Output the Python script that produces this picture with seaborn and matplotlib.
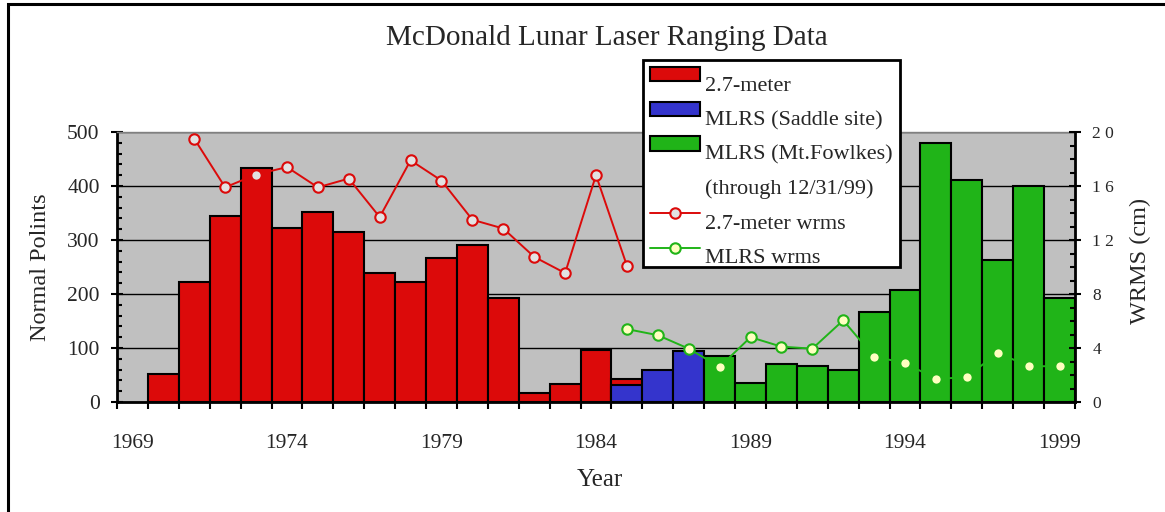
import matplotlib
matplotlib.use("Agg")
import matplotlib.pyplot as plt
import matplotlib.transforms as mtransforms
from matplotlib.patches import Patch, Rectangle
from matplotlib.lines import Line2D
from matplotlib.ticker import MultipleLocator, FixedLocator, NullFormatter
import numpy as np
import pandas as pd
import seaborn as sns

# ---------------- data ----------------
title = "McDonald Lunar Laser Ranging Data"

red_years = [1970, 1971, 1972, 1973, 1974, 1975, 1976, 1977, 1978, 1979,
             1980, 1981, 1982, 1983, 1984, 1985]
red_points = [52, 222, 345, 434, 322, 352, 315, 238, 222, 267,
              290, 192, 17, 33, 97, 43]

blue_years = [1985, 1986, 1987]
blue_points = [32, 59, 95]

green_years = [1988, 1989, 1990, 1991, 1992, 1993, 1994, 1995, 1996, 1997,
               1998, 1999]
green_points = [85, 36, 70, 66, 59, 167, 207, 479, 411, 263, 400, 192]

red_wrms_years = [1971, 1972, 1973, 1974, 1975, 1976, 1977, 1978, 1979,
                  1980, 1981, 1982, 1983, 1984, 1985]
red_wrms = [19.5, 15.9, 16.85, 17.4, 15.9, 16.55, 13.7, 17.9, 16.4,
            13.5, 12.85, 10.75, 9.55, 16.8, 10.1]

green_wrms_years = [1985, 1986, 1987, 1988, 1989, 1990, 1991, 1992, 1993,
                    1994, 1995, 1996, 1997, 1998, 1999]
green_wrms = [5.4, 4.95, 3.95, 2.6, 4.8, 4.1, 3.95, 6.05, 3.35,
              2.9, 1.7, 1.85, 3.65, 2.65, 2.65]

year_tick_labels = ["1969", "1974", "1979", "1984", "1989", "1994", "1999"]
left_ticks = [0, 100, 200, 300, 400, 500]
right_ticks = [0, 4, 8, 12, 16, 20]
right_tick_labels = ["0", "4", "8", "1 2", "1 6", "2 0"]

legend_labels = ["2.7-meter", "MLRS (Saddle site)", "MLRS (Mt.Fowlkes)",
                 "(through 12/31/99)", "2.7-meter wrms", "MLRS wrms"]

# ---------------- style ----------------
RED = "#DC0A0A"
BLUE = "#3434CC"
GREEN = "#20B418"
GRAY = "#C0C0C0"

sns.set_style("ticks")
plt.rcParams["font.family"] = ["Liberation Serif", "DejaVu Serif"]

fig = plt.figure(figsize=(11.65, 5.12), dpi=100)
ax = fig.add_axes([117 / 1165, 1 - 402 / 512, 958 / 1165, 270 / 512])
ax.set_facecolor(GRAY)
ax.set_axisbelow(True)

bar_kw = dict(native_scale=True, width=1.0, saturation=1, errorbar=None,
              edgecolor="black", linewidth=1.5, ax=ax)
sns.barplot(x=red_years, y=red_points, color=RED, **bar_kw)
sns.barplot(x=blue_years, y=blue_points, color=BLUE, **bar_kw)
sns.barplot(x=green_years, y=green_points, color=GREEN, **bar_kw)

ax.set_xlim(1968.5, 1999.5)
ax.set_ylim(0, 500)

# x ticks: boundaries (major), labels (minor, zero length)
bounds = [y + 0.5 for y in range(1968, 2000)]
ax.xaxis.set_major_locator(FixedLocator(bounds))
ax.xaxis.set_major_formatter(NullFormatter())
ax.set_xticks([int(s) for s in year_tick_labels], labels=year_tick_labels, minor=True)
ax.tick_params(axis="x", which="major", direction="out", length=5, width=1.5,
               color="black")
ax.tick_params(axis="x", which="minor", length=0, pad=23, labelsize=15.5)

ax.set_yticks(left_ticks)
ax.yaxis.set_minor_locator(MultipleLocator(20))
ax.tick_params(axis="y", which="major", direction="inout", length=9, width=1.5,
               pad=8, labelsize=15.5, color="black")
ax.tick_params(axis="y", which="minor", direction="in", length=3.6, width=1.5,
               color="black")
ax.yaxis.grid(True, which="major", color="black", linewidth=1)
ax.xaxis.grid(False)

for s in ["left", "bottom"]:
    ax.spines[s].set_color("black")
    ax.spines[s].set_linewidth(2)
ax.spines["top"].set_visible(True)
ax.spines["top"].set_color("#808080")
ax.spines["top"].set_linewidth(1)
ax.spines["right"].set_visible(False)

ax.set_ylabel("Normal Polints", fontsize=17.5)
ax.yaxis.set_label_coords(-0.069, 0.5)
ax.set_xlabel("Year", fontsize=18)
ax.xaxis.set_label_coords(0.504, -0.25)

# ---------------- wrms lines ----------------
ax2 = ax.twinx()
ax2.set_ylim(0, 20)
sns.lineplot(x=red_wrms_years, y=red_wrms, ax=ax2, color=RED, linewidth=1.4,
             marker="o", markersize=7.5, markerfacecolor="#E2E2E2",
             markeredgecolor=RED, markeredgewidth=1.5)
sns.lineplot(x=green_wrms_years, y=green_wrms, ax=ax2, color=GREEN, linewidth=1.4,
             marker="o", markersize=7.5, markerfacecolor="#FFFFC0",
             markeredgecolor=GREEN, markeredgewidth=1.5)
ax2.set_xlim(1968.5, 1999.5)
ax2.set_yticks(right_ticks, labels=right_tick_labels)
ax2.yaxis.set_minor_locator(MultipleLocator(1))
ax2.tick_params(axis="y", which="major", direction="inout", length=9, width=1.5,
                pad=8, labelsize=12.5, color="black")
ax2.tick_params(axis="y", which="minor", direction="in", length=3.6, width=1.5,
                color="black")
for s in ["left", "top", "bottom"]:
    ax2.spines[s].set_visible(False)
ax2.spines["right"].set_visible(True)
ax2.spines["right"].set_color("black")
ax2.spines["right"].set_linewidth(2)
ax2.set_ylabel("WRMS (cm)", fontsize=17.5)
ax2.yaxis.set_label_coords(1.0574, 0.522)
ax2.grid(False)

# ---------------- legend ----------------
handles = [
    Patch(facecolor=RED, edgecolor="black", linewidth=1.5),
    Patch(facecolor=BLUE, edgecolor="black", linewidth=1.5),
    Patch(facecolor=GREEN, edgecolor="black", linewidth=1.5),
    Patch(facecolor="none", edgecolor="none"),
    Line2D([], [], color=RED, linewidth=1.4, marker="o", markersize=7.5,
           markerfacecolor="#E2E2E2", markeredgecolor=RED, markeredgewidth=1.5),
    Line2D([], [], color=GREEN, linewidth=1.4, marker="o", markersize=7.5,
           markerfacecolor="#FFFFC0", markeredgecolor=GREEN, markeredgewidth=1.5),
]
leg = fig.legend(handles, legend_labels, loc="upper left",
                 bbox_to_anchor=(643 / 1165, 1 - 60 / 512),
                 bbox_transform=fig.transFigure, borderaxespad=0,
                 fontsize=16, frameon=True, fancybox=False, shadow=False,
                 framealpha=1, edgecolor="black", handlelength=2.25,
                 handleheight=0.6, handletextpad=0.2, labelspacing=0.66,
                 borderpad=0.33)
leg.get_frame().set_linewidth(2)
shift = mtransforms.ScaledTranslation(0, -6 / 72, fig.dpi_scale_trans)
for t in leg.get_texts():
    t.set_transform(t.get_transform() + shift)

# ---------------- title & border ----------------
fig.text(606.5 / 1165, 1 - 45 / 512, title, ha="center", va="baseline",
         fontsize=21)
fig.add_artist(Rectangle((8 / 1165, -0.1), 1.2, 1.1 - 3.5 / 512,
                         transform=fig.transFigure, fill=False,
                         edgecolor="black", linewidth=2.2, clip_on=False))

fig.savefig("out.png", dpi=100)
